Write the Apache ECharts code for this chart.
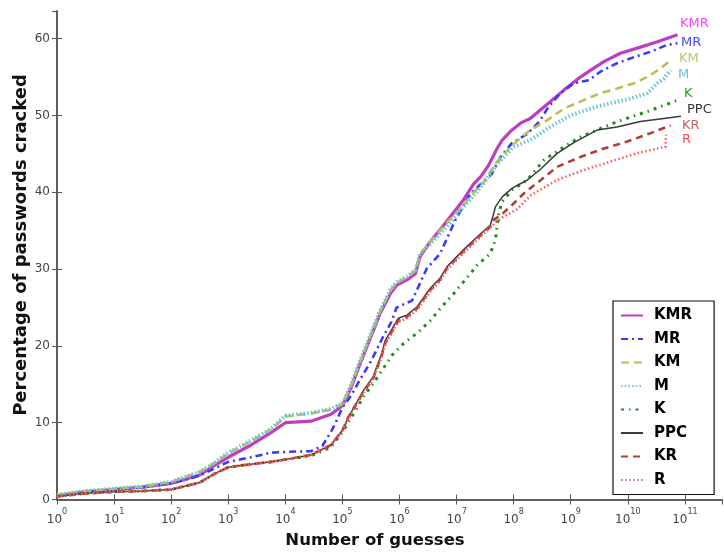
<!DOCTYPE html>
<html>
<head>
<meta charset="utf-8">
<script src="https://cdn.jsdelivr.net/npm/echarts@6/dist/echarts.min.js"></script>
<style>
html,body{margin:0;padding:0;background:#fff;}
#chart{width:724px;height:552px;}
</style>
</head>
<body>
<div id="chart"></div>
<script>
// x = log10(number of guesses), y = percentage of passwords cracked
const seriesNames = ['KMR', 'MR', 'KM', 'M', 'K', 'PPC', 'KR', 'R'];

const KMR = [[0,0.5],[0.5,1.0],[1,1.3],[1.5,1.6],[2,2.1],[2.5,3.2],[2.75,4.4],[3,5.5],[3.4,7.1],[3.75,8.7],[4,10.0],[4.45,10.2],[4.8,11.1],[5.0,12.2],[5.15,14.5],[5.3,17.5],[5.5,21.2],[5.66,24.2],[5.84,26.8],[5.95,27.9],[6.13,28.6],[6.28,29.4],[6.36,31.6],[6.54,33.6],[6.71,35.1],[6.89,36.8],[7.12,39.0],[7.3,41.1],[7.42,42.0],[7.56,43.5],[7.71,45.7],[7.8,46.8],[7.94,47.9],[8.12,49.0],[8.29,49.6],[8.53,51.1],[8.88,53.3],[9.17,55.0],[9.35,55.9],[9.58,57.0],[9.87,58.1],[10.22,58.9],[10.52,59.6],[10.87,60.5]];

const MR = [[0,0.5],[0.5,1.0],[1,1.3],[1.5,1.6],[2,2.1],[2.5,3.1],[2.75,4.0],[3,4.9],[3.4,5.5],[3.75,6.1],[4,6.2],[4.45,6.3],[4.65,7.0],[4.8,8.8],[4.9,10.3],[5.0,12.0],[5.15,13.5],[5.3,15.5],[5.5,18.0],[5.7,21.0],[5.85,23.0],[5.95,25.0],[6.22,25.9],[6.48,30.1],[6.71,32.0],[6.98,36.4],[7.24,39.8],[7.62,42.4],[7.77,44.6],[7.97,46.4],[8.24,47.6],[8.45,49.2],[8.6,51.0],[8.82,52.9],[9.06,54.2],[9.32,54.6],[9.52,55.7],[9.81,56.8],[10.11,57.6],[10.4,58.3],[10.69,59.2],[10.87,59.4]];

const KM = [[0,0.6],[0.5,1.1],[1,1.4],[1.5,1.7],[2,2.3],[2.5,3.6],[2.75,4.7],[3,6.0],[3.4,7.6],[3.75,9.1],[4,10.8],[4.45,11.2],[4.8,11.7],[5.0,12.4],[5.15,14.8],[5.3,17.8],[5.5,21.5],[5.66,24.5],[5.84,27.2],[5.95,28.2],[6.13,28.9],[6.28,29.8],[6.36,32.0],[6.54,33.6],[6.71,35.0],[6.89,36.5],[7.12,38.3],[7.3,40.0],[7.47,41.3],[7.71,44.0],[8.0,46.3],[8.29,48.1],[8.59,49.4],[8.88,50.9],[9.23,52.0],[9.52,52.9],[9.81,53.5],[10.11,54.2],[10.34,55.0],[10.57,56.1],[10.72,57.0]];

const M = [[0,0.6],[0.5,1.1],[1,1.4],[1.5,1.7],[2,2.3],[2.5,3.6],[2.75,4.7],[3,6.1],[3.4,7.7],[3.75,9.2],[4,10.9],[4.45,11.3],[4.8,11.8],[5.0,12.5],[5.15,14.9],[5.3,17.9],[5.5,21.6],[5.66,24.6],[5.84,27.3],[5.95,28.3],[6.13,29.0],[6.28,29.9],[6.36,31.9],[6.54,33.3],[6.71,34.6],[6.89,36.0],[7.12,38.1],[7.3,39.6],[7.47,41.1],[7.71,43.7],[8.0,45.9],[8.29,46.8],[8.64,48.5],[8.99,50.0],[9.35,50.9],[9.7,51.6],[10.05,52.2],[10.34,52.9],[10.52,54.2],[10.63,54.8],[10.75,55.9]];

const K = [[0,0.4],[0.5,0.8],[1,1.0],[1.5,1.1],[2,1.3],[2.5,2.2],[2.75,3.3],[3,4.2],[3.4,4.6],[3.75,4.9],[4,5.2],[4.45,5.7],[4.8,6.8],[5.02,9.0],[5.14,10.5],[5.37,13.4],[5.54,15.1],[5.72,17.1],[5.87,18.8],[6.07,20.3],[6.33,21.8],[6.54,23.3],[6.74,25.1],[6.95,26.8],[7.15,28.6],[7.36,30.5],[7.59,32.0],[7.68,33.8],[7.71,35.5],[7.74,37.2],[7.8,38.8],[7.97,40.3],[8.24,41.6],[8.53,44.2],[8.88,45.9],[9.17,47.2],[9.46,48.1],[9.75,49.0],[10.05,49.8],[10.34,50.5],[10.63,51.3],[10.87,52.0]];

const PPC = [[0,0.4],[0.5,0.8],[1,1.0],[1.5,1.1],[2,1.3],[2.5,2.2],[2.75,3.3],[3,4.2],[3.4,4.6],[3.75,4.9],[4,5.2],[4.45,5.8],[4.8,7.1],[5.0,9.0],[5.11,10.8],[5.37,14.2],[5.54,16.0],[5.69,19.0],[5.75,20.7],[5.98,23.6],[6.13,24.0],[6.31,25.1],[6.54,27.5],[6.71,28.8],[6.83,30.3],[7.12,32.5],[7.42,34.6],[7.59,35.7],[7.65,37.2],[7.68,38.1],[7.8,39.4],[7.97,40.5],[8.24,41.6],[8.47,43.0],[8.75,45.0],[9.06,46.5],[9.46,48.1],[9.81,48.5],[10.22,49.2],[10.63,49.6],[10.93,49.9]];

const KR = [[0,0.4],[0.5,0.8],[1,1.0],[1.5,1.1],[2,1.3],[2.5,2.2],[2.75,3.3],[3,4.2],[3.4,4.6],[3.75,4.9],[4,5.2],[4.45,5.8],[4.8,7.1],[5.0,9.0],[5.11,10.8],[5.37,14.0],[5.54,15.8],[5.69,18.8],[5.75,20.4],[5.98,23.3],[6.13,23.8],[6.31,24.9],[6.54,27.3],[6.71,28.6],[6.83,30.1],[7.12,32.3],[7.42,34.4],[7.59,35.5],[7.65,36.4],[7.77,37.0],[7.94,38.1],[8.2,40.0],[8.41,41.2],[8.76,43.3],[9.17,44.6],[9.58,45.7],[9.99,46.6],[10.4,47.7],[10.75,48.7]];

const R = [[0,0.4],[0.5,0.8],[1,1.0],[1.5,1.1],[2,1.3],[2.5,2.2],[2.75,3.3],[3,4.2],[3.4,4.6],[3.75,4.9],[4,5.2],[4.45,5.8],[4.8,7.1],[5.0,9.0],[5.11,10.6],[5.37,13.9],[5.54,15.7],[5.69,18.6],[5.75,20.2],[5.98,23.1],[6.13,23.6],[6.31,24.7],[6.54,27.1],[6.71,28.4],[6.83,29.9],[7.12,32.1],[7.42,34.2],[7.6,35.5],[7.7,36.2],[7.8,36.7],[8.06,37.8],[8.3,39.6],[8.76,41.6],[9.23,42.9],[9.7,44.0],[10.17,45.1],[10.52,45.7],[10.66,45.9],[10.67,47.5]];

const xTickExponents = [0,1,2,3,4,5,6,7,8,9,10,11];
const yTickLabels = [0,10,20,30,40,50,60];

const seriesData = {KMR, MR, KM, M, K, PPC, KR, R};

const styles = {
  KMR: {color:'#c03cc0', width:3.2, type:'solid'},
  MR:  {color:'#3a3aff', width:2.6, type:[7,4,2,4]},
  KM:  {color:'#bcc050', width:2.6, type:[8,5]},
  M:   {color:'#6cc4d4', width:4, type:[1.5,2.2]},
  K:   {color:'#1f8f1f', width:3, type:[3,5,1.5,5]},
  PPC: {color:'#3a3a3a', width:1.5, type:'solid'},
  KR:  {color:'#b23c3c', width:2.6, type:[7,5]},
  R:   {color:'#ff5a5a', width:2.6, type:[1.5,2.5]}
};
const labelColors = {KMR:'#ff44ff', MR:'#4848ff', KM:'#c4c468', M:'#68c4d6', K:'#22a022', PPC:'#333333', KR:'#c46464', R:'#ff4848'};
const labelPos = {KMR:[680,25], MR:[681,44], KM:[679,60], M:[678,76], K:[684,95], PPC:[687,111], KR:[682,127], R:[682,141]};

const chart = echarts.init(document.getElementById('chart'), null, {renderer:'canvas'});

const axisColor = '#555';
const series = seriesNames.map(n => ({
  name: n,
  type: 'line',
  data: seriesData[n],
  symbol: 'none',
  showSymbol: false,
  xAxisIndex: 0,
  yAxisIndex: 0,
  lineStyle: {color: styles[n].color, width: styles[n].width, type: styles[n].type},
  itemStyle: {color: styles[n].color},
  animation: false
}));

const graphics = seriesNames.map(n => ({
  type: 'text',
  left: labelPos[n][0],
  top: labelPos[n][1] - 8,
  style: {text: n, fill: labelColors[n], font: '13px "DejaVu Sans"'}
}));
graphics.push({
  type:'text', x:375, y:541,
  style:{text:'Number of guesses', fill:'#111', font:'bold 16.5px "DejaVu Sans"', textAlign:'center', textVerticalAlign:'middle'}
});
graphics.push({
  type:'text', x:21, y:245, rotation:Math.PI/2,
  style:{text:'Percentage of passwords cracked', fill:'#111', font:'bold 18px "DejaVu Sans"', textAlign:'center', textVerticalAlign:'middle'}
});

const option = {
  backgroundColor: '#fff',
  animation: false,
  grid: {left:57, top:11, right:2, bottom:52.5, containLabel:false},
  xAxis: [{
    type:'value', min:0, max:11.65, interval:1, position:'bottom',
    axisLine:{show:true, lineStyle:{color:axisColor, width:1.5}},
    axisTick:{show:true, inside:true, length:5, lineStyle:{color:axisColor}},
    splitLine:{show:false},
    axisLabel:{
      margin:8, showMaxLabel:false,
      formatter: v => (xTickExponents.indexOf(v) >= 0 ? '{b|10}{s|' + v + '}' : ''),
      rich:{
        b:{fontSize:12, color:'#444', fontFamily:'DejaVu Sans', lineHeight:18, verticalAlign:'bottom'},
        s:{fontSize:8, color:'#444', fontFamily:'DejaVu Sans', lineHeight:18, verticalAlign:'top'}
      }
    }
  },{
    type:'value', min:0, max:11.65, interval:1, position:'top',
    axisLine:{show:true, lineStyle:{color:axisColor, width:1.5}},
    axisTick:{show:true, inside:true, length:5, lineStyle:{color:axisColor}},
    axisLabel:{show:false}, splitLine:{show:false}
  }],
  yAxis: [{
    type:'value', min:0, max:63.6, interval:10, position:'left',
    axisLine:{show:true, lineStyle:{color:axisColor, width:1.5}},
    axisTick:{show:true, inside:true, length:5, lineStyle:{color:axisColor}},
    splitLine:{show:false},
    axisLabel:{
      margin:7, color:'#444', fontSize:12, fontFamily:'DejaVu Sans', showMaxLabel:false,
      formatter: v => (yTickLabels.indexOf(v) >= 0 ? String(v) : '')
    }
  },{
    type:'value', min:0, max:63.6, interval:10, position:'right',
    axisLine:{show:true, lineStyle:{color:axisColor, width:1.5}},
    axisTick:{show:true, inside:true, length:5, lineStyle:{color:axisColor}},
    axisLabel:{show:false}, splitLine:{show:false}
  }],
  legend: {
    data: seriesNames,
    orient:'vertical',
    left:613, top:301,
    padding:[7,22,7,7],
    itemGap:8.5,
    itemWidth:22,
    itemHeight:14,
    borderColor:'#111',
    borderWidth:1.2,
    backgroundColor:'#fff',
    selectedMode:false,
    itemStyle:{opacity:0, borderWidth:0},
    textStyle:{fontSize:15, fontWeight:'bold', color:'#000', fontFamily:'DejaVu Sans', padding:[0,0,0,6]}
  },
  series: series,
  graphic: graphics
};
chart.setOption(option);
</script>
</body>
</html>
